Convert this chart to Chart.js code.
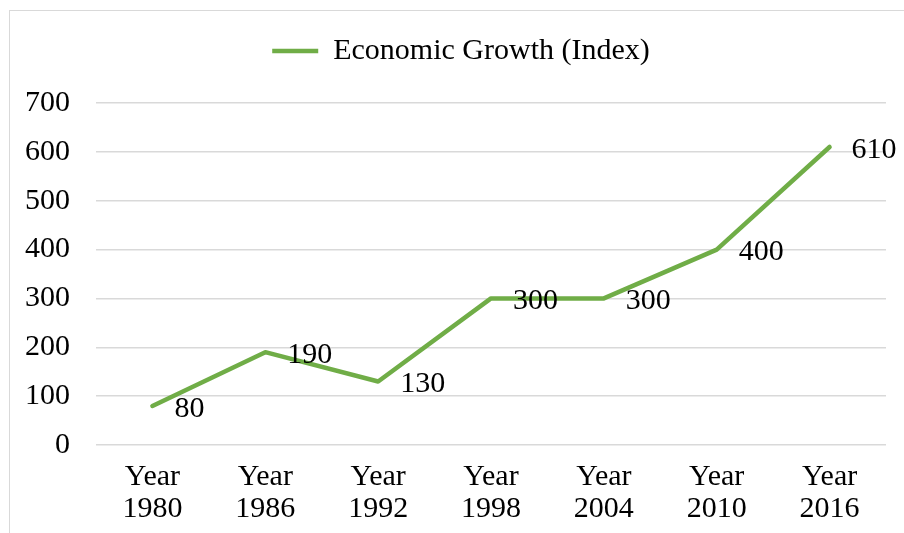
<!DOCTYPE html>
<html>
<head>
<meta charset="utf-8">
<script src="https://cdn.jsdelivr.net/npm/chart.js@4/dist/chart.umd.min.js"></script>
<style>
  html, body { margin: 0; padding: 0; background: #fff; overflow: hidden; }
  #wrap { position: relative; width: 904px; height: 533px; }
  #frame { position: absolute; left: 9px; top: 10px; width: 1000px; height: 600px; border: 1px solid #d9d9d9; }
  #chart { position: absolute; left: 0; top: 0; }
</style>
</head>
<body>
<div id="wrap">
  <div id="frame"></div>
  <canvas id="chart" width="904" height="533"></canvas>
</div>
<script>
var years = ['1980', '1986', '1992', '1998', '2004', '2010', '2016'];
var growth = [80, 190, 130, 300, 300, 400, 610];
var seriesName = 'Economic Growth (Index)';
var yTicks = [0, 100, 200, 300, 400, 500, 600, 700];

var serif = '"Liberation Serif", "Times New Roman", serif';
var green = '#70ad47';
var fontSize = 30;

// value labels to the right of each point
var valueLabels = {
  id: 'valueLabels',
  afterDatasetsDraw: function (chart) {
    var ctx = chart.ctx;
    var meta = chart.getDatasetMeta(0);
    ctx.save();
    ctx.font = fontSize + 'px ' + serif;
    ctx.fillStyle = '#000';
    ctx.textAlign = 'left';
    ctx.textBaseline = 'middle';
    meta.data.forEach(function (pt, i) {
      ctx.fillText(String(growth[i]), pt.x + 22, pt.y + 3);
    });
    ctx.restore();
  }
};

// extra room under the legend, and nudge it a little to the right
var legendTweak = {
  id: 'legendTweak',
  beforeUpdate: function (chart) {
    var lg = chart.legend;
    if (!lg || lg._tweaked) return;
    var fit = lg.fit;
    lg.fit = function () { fit.call(this); this.height += 27; };
    var draw = lg.draw;
    lg.draw = function () {
      this.left += 18; this.right += 18;
      draw.apply(this, arguments);
      this.left -= 18; this.right -= 18;
    };
    lg._tweaked = true;
  }
};

var ctx = document.getElementById('chart').getContext('2d');
var chart = new Chart(ctx, {
  type: 'line',
  data: {
    labels: years.map(function (y) { return ['Year', y]; }),
    datasets: [{
      label: seriesName,
      data: growth,
      borderColor: green,
      backgroundColor: green,
      borderWidth: 4.5,
      borderCapStyle: 'round',
      borderJoinStyle: 'round',
      pointRadius: 0,
      tension: 0,
      fill: false
    }]
  },
  options: {
    responsive: false,
    animation: false,
    layout: { padding: { top: 26, right: 18, left: 0, bottom: 0 } },
    plugins: {
      tooltip: { enabled: false },
      legend: {
        display: true,
        position: 'top',
        labels: {
          font: { family: serif, size: fontSize },
          color: '#000',
          usePointStyle: true,
          pointStyle: 'line',
          pointStyleWidth: 46,
          padding: 10
        }
      }
    },
    scales: {
      x: {
        offset: true,
        grid: { display: false },
        border: { display: false },
        ticks: {
          color: '#000',
          font: { family: serif, size: fontSize, lineHeight: 1.07 },
          maxRotation: 0,
          autoSkip: false,
          padding: 8
        },
        afterFit: function (scale) { scale.height = 88; }
      },
      y: {
        min: 0,
        max: 700,
        grid: { color: '#d9d9d9', lineWidth: 1.5, drawTicks: false },
        border: { display: false },
        afterBuildTicks: function (scale) {
          scale.ticks = yTicks.map(function (v) { return { value: v }; });
        },
        ticks: {
          color: '#000',
          font: { family: serif, size: fontSize },
          padding: 26
        },
        afterFit: function (scale) { scale.width = 96; }
      }
    }
  },
  plugins: [valueLabels, legendTweak]
});
</script>
</body>
</html>
